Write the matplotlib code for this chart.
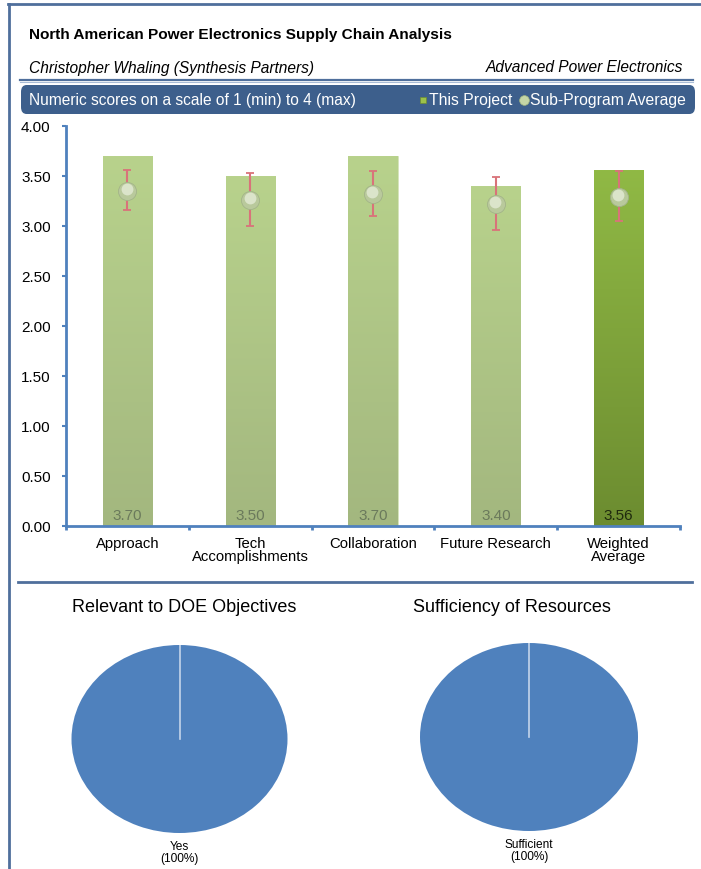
#!/usr/bin/env python3
import numpy as np
import matplotlib
matplotlib.use('Agg')
import matplotlib.pyplot as plt
from matplotlib.patches import FancyBboxPatch
from matplotlib.lines import Line2D
from matplotlib.colors import LinearSegmentedColormap
from matplotlib.transforms import offset_copy

plt.rcParams['font.family'] = ['Liberation Sans', 'DejaVu Sans']

# --- data ---
categories = ['Approach', 'Tech\nAccomplishments', 'Collaboration', 'Future Research', 'Weighted\nAverage']
project_scores = [3.70, 3.50, 3.70, 3.40, 3.56]
subprogram_avg = [3.35, 3.26, 3.32, 3.22, 3.29]
subprogram_min = [3.16, 3.00, 3.10, 2.96, 3.05]
subprogram_max = [3.56, 3.53, 3.55, 3.49, 3.55]

pie_titles = ['Relevant to DOE Objectives', 'Sufficiency of Resources']
pie_labels = ['Yes', 'Sufficient']
pie_shares = [100, 100]

title = 'North American Power Electronics Supply Chain Analysis'
presenter = 'Christopher Whaling (Synthesis Partners)'
program = 'Advanced Power Electronics'
banner_text = 'Numeric scores on a scale of 1 (min) to 4 (max)'

W, H = 701, 870
fig = plt.figure(figsize=(W / 100, H / 100), dpi=100)
fig.patch.set_facecolor('white')

FRAME = '#4f6f9c'


def fx(x):
    return x / W


def fy(y):
    return 1 - y / H


def box(x0, y0, x1, y1):
    """pixel box (top-left origin) -> fig rect"""
    return [fx(x0), fy(y1), (x1 - x0) / W, (y1 - y0) / H]


# --- frame and header ---
fig.add_artist(Line2D([fx(8), fx(701)], [fy(5), fy(5)], color=FRAME, lw=2))
fig.add_artist(Line2D([fx(9), fx(9)], [fy(5), fy(870)], color=FRAME, lw=2))

fig.text(fx(29), fy(35), title, fontsize=11.1, fontweight='bold', va='center', ha='left')
fig.text(fx(29), fy(68), presenter, fontsize=11.2, style='italic', va='center', ha='left')
fig.text(fx(683), fy(68), program, fontsize=11.2, style='italic', va='center', ha='right')

fig.add_artist(Line2D([fx(20), fx(693)], [fy(80.5), fy(80.5)], color=FRAME, lw=1.6))
fig.add_artist(Line2D([fx(20), fx(693)], [fy(83), fy(83)], color='#a9bcd6', lw=0.8))

banner = FancyBboxPatch((fx(21), fy(115)), (695 - 21) / W, (115 - 86) / H,
                        boxstyle='round,pad=0,rounding_size=0.008',
                        transform=fig.transFigure, facecolor='#3d5f8c', edgecolor='none')
fig.add_artist(banner)
fig.text(fx(29), fy(100.5), banner_text, fontsize=11.2, color='white', va='center', ha='left')
fig.add_artist(Line2D([fx(423)], [fy(100.5)], marker='s', markersize=4, color='#9bc24a',
                      markeredgecolor='#6e8e31', markeredgewidth=0.5, linestyle='none'))
fig.text(fx(429), fy(100.5), 'This Project', fontsize=11.3, color='white', va='center', ha='left')
fig.add_artist(Line2D([fx(524)], [fy(100.5)], marker='o', markersize=7, color='#c5d6a6',
                      markeredgecolor='#9fb480', markeredgewidth=0.5, linestyle='none'))
fig.text(fx(530), fy(100.5), 'Sub-Program Average', fontsize=11.3, color='white', va='center', ha='left')

# --- bar chart ---
ax = fig.add_axes(box(66, 127, 680, 527))
x = np.arange(len(categories))
bar_w = 0.4
light = LinearSegmentedColormap.from_list('light', ['#a3b77f', '#b8d28c'])
dark = LinearSegmentedColormap.from_list('dark', ['#6c8c30', '#90b945'])
grad = np.linspace(0, 1, 256).reshape(-1, 1)

bars = ax.bar(x, project_scores, width=bar_w, color='#b3cd86', edgecolor='#d6e4bd',
              linewidth=0.6, zorder=2)
for i, b in enumerate(bars):
    cmap = dark if i == len(bars) - 1 else light
    im = ax.imshow(grad, cmap=cmap, origin='lower', aspect='auto', zorder=2.1,
                   extent=[b.get_x(), b.get_x() + b.get_width(), 0, b.get_height()])
    im.set_clip_path(b)

yerr = [np.array(subprogram_avg) - np.array(subprogram_min),
        np.array(subprogram_max) - np.array(subprogram_avg)]
ax.errorbar(x, subprogram_avg, yerr=yerr, fmt='none', ecolor='#d9737a', elinewidth=1.5,
            capsize=3, capthick=1.3, zorder=3)
ax.plot(x, subprogram_avg, 'o', markersize=13, color='#b9c99c', markeredgecolor='#a3b489',
        markeredgewidth=0.6, zorder=4)
# soft highlight on the upper part of each sphere
hl = offset_copy(ax.transData, fig=fig, x=-0.5, y=1.6, units='points')
ax.plot(x, subprogram_avg, 'o', markersize=8.5, color='#eaf0df', markeredgewidth=0, alpha=0.7,
        transform=hl, zorder=5)

for i, v in enumerate(project_scores):
    col = '#1f2a0e' if i == len(project_scores) - 1 else '#6b7a5c'
    ax.text(x[i], 0.11, f'{v:.2f}', ha='center', va='center', fontsize=11, color=col, zorder=6)

ax.set_xlim(-0.5, len(categories) - 0.5)
ax.set_ylim(0, 4)
ax.set_yticks(np.arange(0, 4.01, 0.5))
ax.set_yticklabels([f'{t:.2f}' for t in np.arange(0, 4.01, 0.5)], fontsize=11)
ax.set_xticks(x)
ax.set_xticklabels(categories, fontsize=10.7, linespacing=0.95)
ax.set_xticks(np.arange(-0.5, len(categories)), minor=True)
ax.tick_params(axis='x', which='major', length=0, pad=7)
ax.tick_params(axis='x', which='minor', length=3, width=2, color='#4f81bd', direction='out')
ax.tick_params(axis='y', length=3, width=1.5, color='#4f81bd', pad=8)
for s in ['top', 'right']:
    ax.spines[s].set_visible(False)
for s in ['left', 'bottom']:
    ax.spines[s].set_color('#4f81bd')
    ax.spines[s].set_linewidth(2)

# separator
fig.add_artist(Line2D([fx(18), fx(692)], [fy(583), fy(583)], color=FRAME, lw=2))

# --- pies ---
pie_boxes = [(179.5, 740, 108, 94), (529, 738, 109, 94)]
title_x = [184, 512]
for k in range(len(pie_titles)):
    cx, cy, rx, ry = pie_boxes[k]
    pax = fig.add_axes(box(cx - rx, cy - ry, cx + rx, cy + ry))
    pax.pie([pie_shares[k]], labels=[f'{pie_labels[k]}\n({pie_shares[k]}%)'],
            colors=['#4f81bd'], startangle=90, counterclock=False, labeldistance=1.07,
            textprops=dict(fontsize=8.6, va='top', ha='center', linespacing=1.05),
            wedgeprops=dict(edgecolor='none'))
    a = np.deg2rad(90)
    pax.plot([0, np.cos(a)], [0, np.sin(a)], color='#c4d4ea', lw=1.2)
    pax.set_aspect('auto')
    pax.set_xlim(-1, 1)
    pax.set_ylim(-1, 1)
    pax.axis('off')
    fig.text(fx(title_x[k]), fy(607), pie_titles[k], fontsize=13, ha='center', va='center')

fig.savefig('out.png', dpi=100)
